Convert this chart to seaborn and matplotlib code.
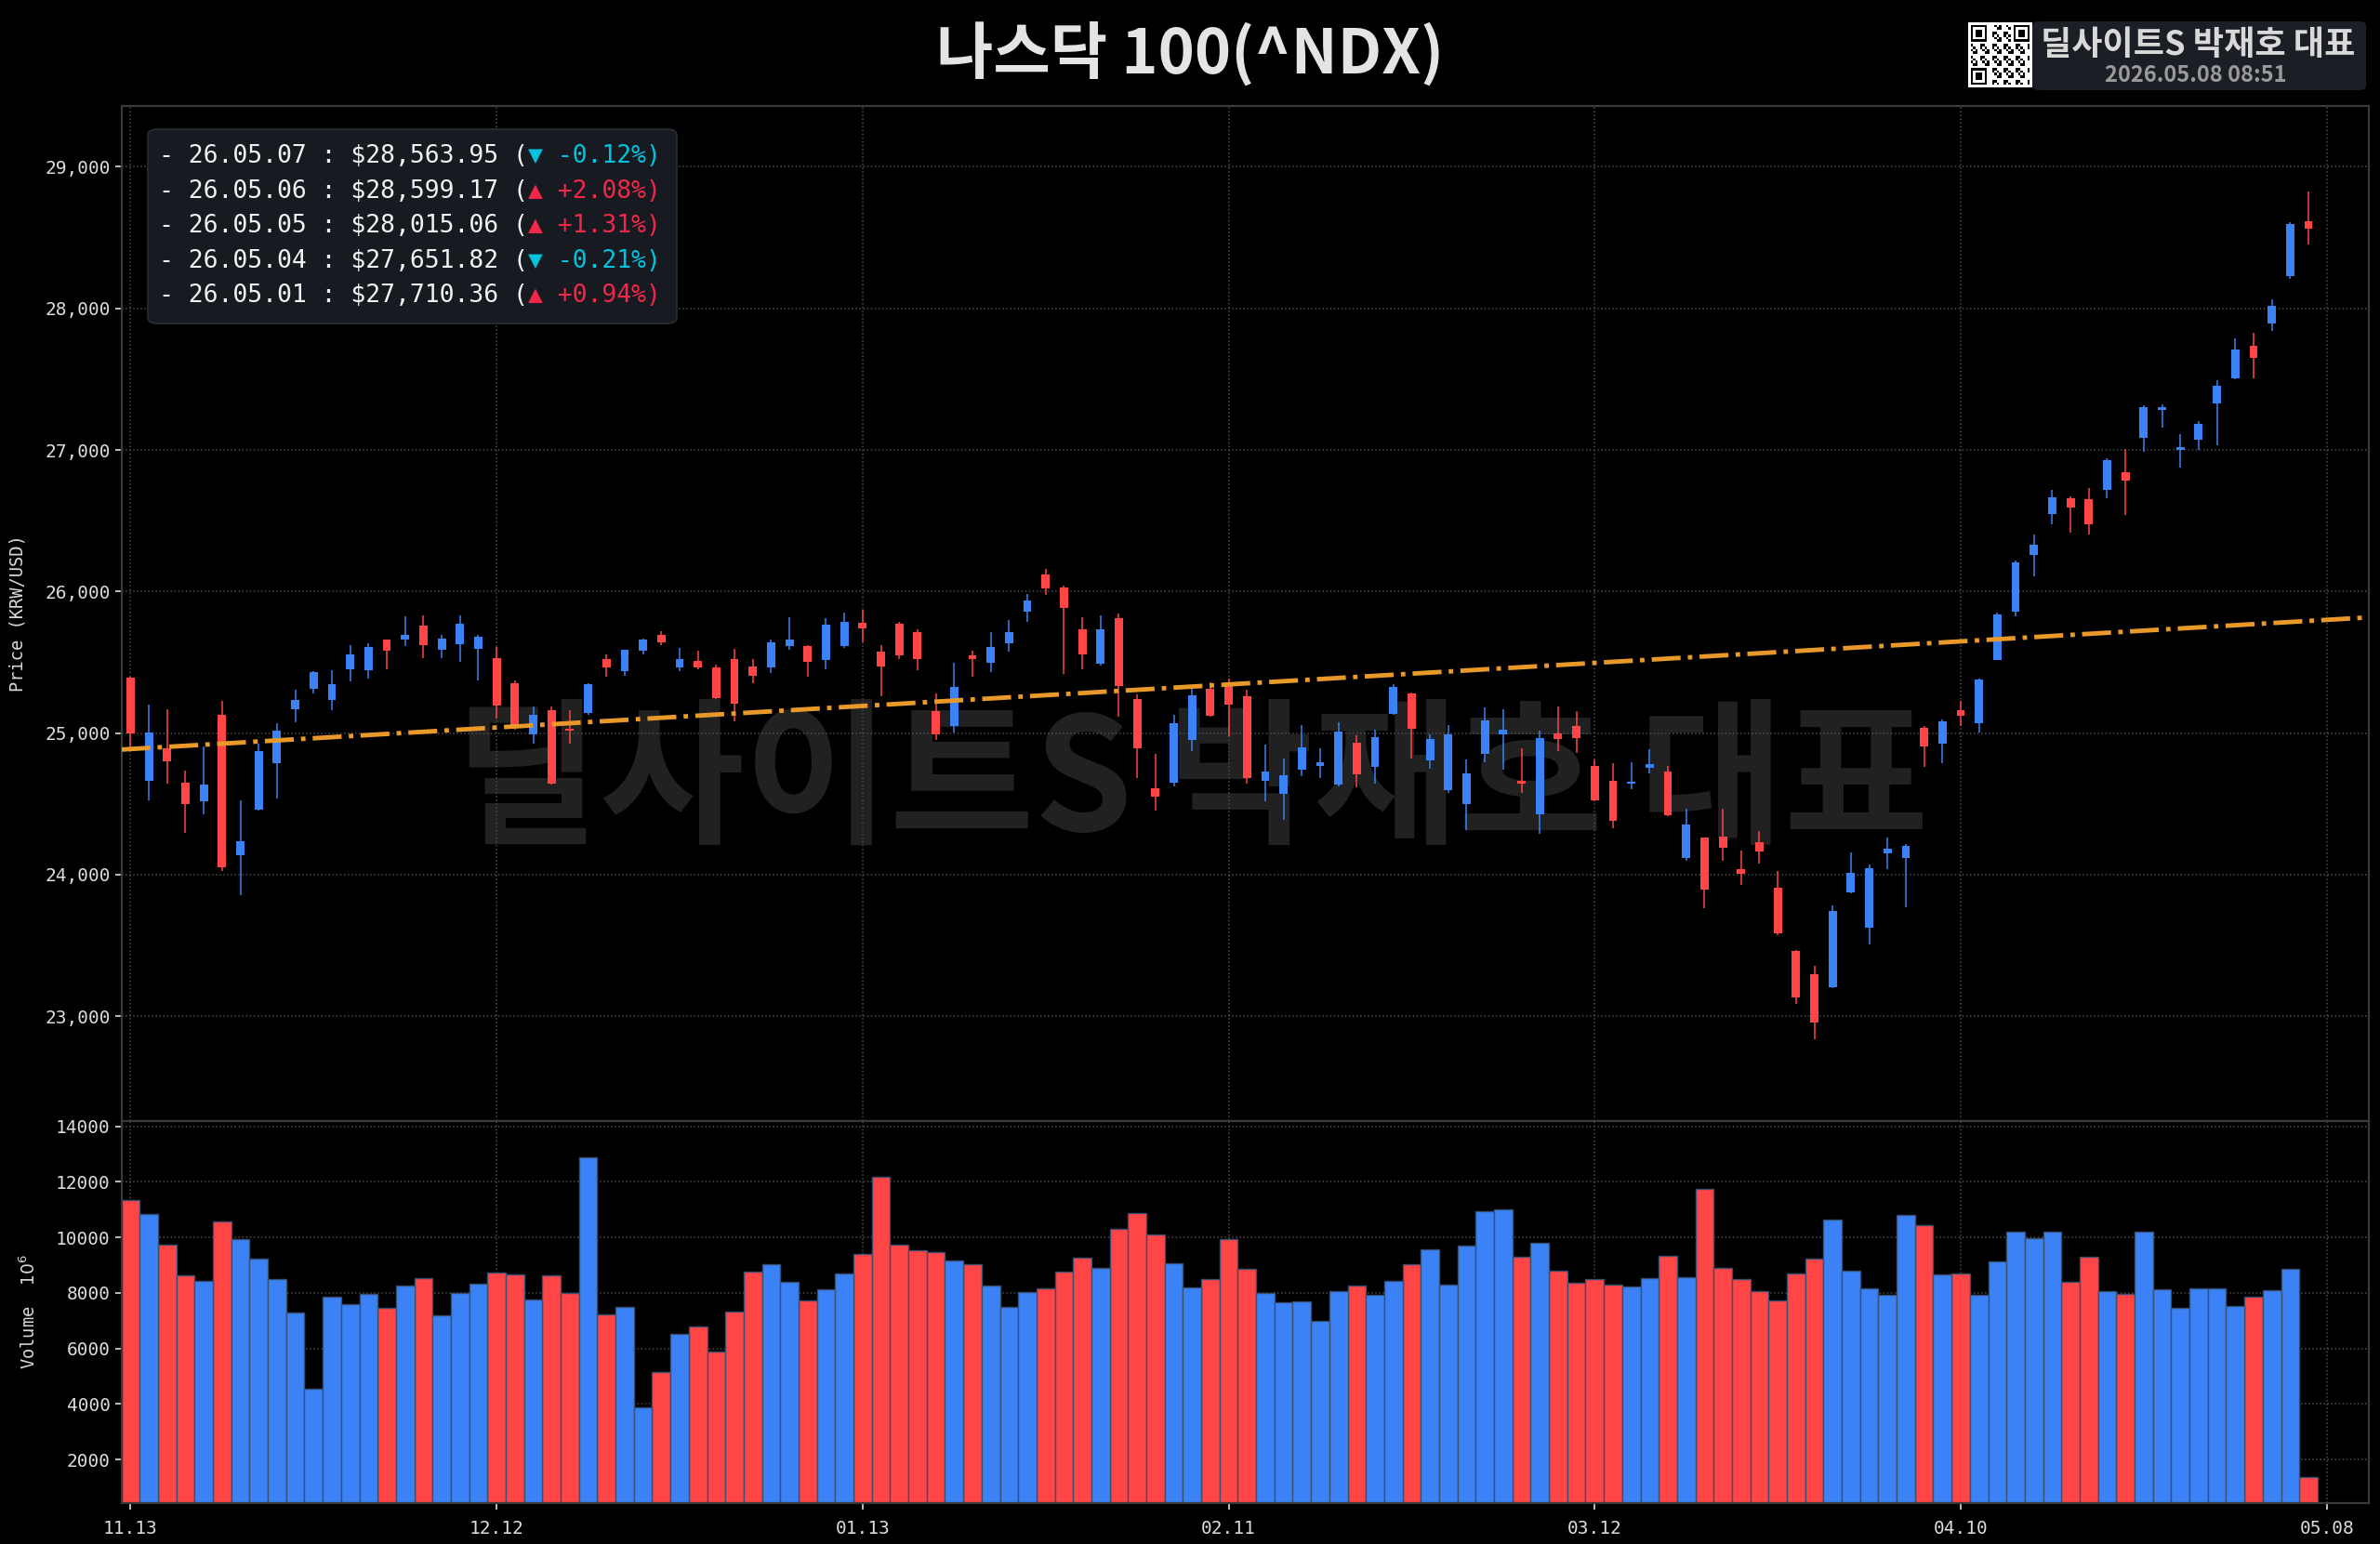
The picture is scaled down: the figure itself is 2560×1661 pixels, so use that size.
import numpy as np
import pandas as pd
import matplotlib
matplotlib.use("Agg")
import matplotlib.pyplot as plt
import seaborn as sns
from matplotlib.patches import FancyBboxPatch
from matplotlib.text import Annotation
from matplotlib.ticker import FuncFormatter, FixedLocator

# ---------------- data ----------------
opens = [25390, 24660, 24890, 24653, 24518, 25132, 24138, 24458, 24787, 25169,
         25311, 25235, 25450, 25445, 25660, 25660, 25757, 25592, 25629, 25596,
         25531, 25351, 24993, 25164, 25033, 25143, 25526, 25439, 25583, 25691,
         25465, 25509, 25465, 25522, 25471, 25465, 25618, 25618, 25515, 25618,
         25778, 25575, 25772, 25713, 25158, 25050, 25548, 25500, 25632, 25855,
         26118, 26026, 25735, 25489, 25811, 25241, 24612, 24653, 24950, 25314,
         25351, 25259, 24664, 24568, 24743, 24770, 24634, 24934, 24763, 25138,
         25279, 24809, 24599, 24502, 24851, 24993, 24660, 24430, 25000, 25050,
         24770, 24660, 24645, 24754, 24730, 24116, 24261, 24270, 24042, 24232,
         23908, 23459, 23300, 23207, 23878, 23627, 24151, 24117, 25040, 24927,
         25161, 25073, 25514, 25857, 26260, 26549, 26658, 26654, 26717, 26843,
         27086, 27283, 26998, 27073, 27329, 27505, 27736, 27895, 28231, 28616]
highs = [25400, 25204, 25169, 24737, 24908, 25226, 24522, 24923, 25070, 25307,
         25439, 25447, 25625, 25638, 25664, 25827, 25829, 25697, 25833, 25697,
         25610, 25373, 25191, 25191, 25164, 25355, 25555, 25592, 25669, 25717,
         25599, 25581, 25482, 25596, 25520, 25658, 25818, 25625, 25811, 25851,
         25871, 25625, 25785, 25735, 25281, 25498, 25581, 25713, 25796, 25980,
         26162, 26042, 25822, 25833, 25844, 25274, 24851, 25127, 25314, 25362,
         25384, 25307, 24919, 24820, 25055, 24890, 25077, 24985, 25022, 25346,
         25290, 24989, 25059, 24814, 25180, 25171, 24890, 25015, 25191, 25154,
         24814, 24787, 24792, 24884, 24765, 24463, 24265, 24467, 24171, 24309,
         24025, 23467, 23354, 23786, 24159, 24075, 24264, 24214, 25048, 25094,
         25228, 25388, 25849, 26218, 26402, 26717, 26671, 26730, 26939, 27010,
         27317, 27325, 27115, 27203, 27493, 27786, 27828, 28063, 28608, 28826]
lows = [24880, 24528, 24643, 24298, 24430, 24024, 23853, 24450, 24540, 25077,
        25281, 25160, 25366, 25384, 25450, 25614, 25531, 25531, 25504, 25373,
        25103, 25022, 24923, 24638, 24923, 25132, 25401, 25406, 25555, 25621,
        25439, 25454, 25241, 25083, 25355, 25428, 25592, 25399, 25454, 25599,
        25640, 25263, 25520, 25445, 24952, 25004, 25401, 25432, 25577, 25789,
        25976, 25421, 25454, 25478, 25114, 24686, 24452, 24621, 24875, 25114,
        24978, 24643, 24518, 24386, 24693, 24686, 24627, 24616, 24643, 25132,
        24820, 24748, 24577, 24316, 24796, 24743, 24577, 24292, 24875, 24857,
        24518, 24331, 24601, 24715, 24414, 24101, 23761, 24101, 23930, 24079,
        23576, 23090, 22838, 23199, 23870, 23509, 24038, 23773, 24759, 24788,
        25052, 25002, 25514, 25828, 26109, 26478, 26415, 26402, 26658, 26541,
        26989, 27157, 26876, 27002, 27031, 27497, 27505, 27841, 28210, 28449]
closes = [24996, 25007, 24803, 24502, 24638, 24050, 24239, 24873, 25018, 25237,
          25432, 25344, 25555, 25607, 25583, 25691, 25625, 25669, 25774, 25684,
          25195, 25055, 25132, 24645, 25018, 25346, 25461, 25588, 25658, 25643,
          25524, 25465, 25248, 25208, 25406, 25640, 25658, 25504, 25763, 25789,
          25741, 25471, 25548, 25526, 24989, 25325, 25520, 25607, 25713, 25939,
          26024, 25884, 25553, 25735, 25336, 24895, 24550, 25070, 25270, 25121,
          25202, 24686, 24730, 24700, 24897, 24796, 25011, 24708, 24974, 25329,
          25033, 24961, 24989, 24715, 25092, 25022, 24643, 24967, 24956, 24963,
          24528, 24379, 24654, 24781, 24423, 24353, 23897, 24193, 24007, 24167,
          23585, 23132, 22956, 23744, 24013, 24046, 24184, 24201, 24906, 25082,
          25124, 25379, 25841, 26205, 26331, 26667, 26591, 26478, 26931, 26784,
          27304, 27304, 27023, 27187, 27452.30, 27710.36, 27651.82, 28015.06, 28599.17, 28563.95]
volumes = [11348, 10844, 9725, 8629, 8438, 10565, 9949, 9244, 8494, 7297,
           4556, 7879, 7599, 7968, 7454, 8271, 8528, 7185, 7991, 8327,
           8718, 8662, 7767, 8618, 7991, 12881, 7241, 7510, 3884, 5160,
           6514, 6783, 5888, 7342, 8752, 9020, 8405, 7734, 8125, 8707,
           9412, 12165, 9725, 9524, 9468, 9166, 9032, 8259, 7487, 8024,
           8159, 8774, 9255, 8886, 10307, 10867, 10117, 9054, 8181, 8495,
           9927, 8864, 7980, 7666, 7711, 7006, 8069, 8248, 7935, 8438,
           9032, 9569, 8304, 9703, 10934, 11001, 9300, 9804, 8797, 8360,
           8483, 8293, 8226, 8528, 9334, 8573, 11740, 8909, 8483, 8047,
           7734, 8707, 9244, 10643, 8797, 8159, 7913, 10811, 10442, 8673,
           8696, 7935, 9132, 10218, 9983, 10196, 8383, 9300, 8080, 7968,
           10218, 8136, 7454, 8159, 8159, 7543, 7846, 8092, 8875, 1378]
market_holidays = ["2025-11-27", "2025-12-25", "2026-01-01", "2026-01-19",
                   "2026-02-16", "2026-04-03"]
start_date, end_date = "2025-11-13", "2026-05-08"

# ---------------- derived ----------------
n = len(closes)
idx = np.arange(n)
o = np.array(opens, float); h = np.array(highs, float)
l = np.array(lows, float); c = np.array(closes, float)
v = np.array(volumes, float)
dates = pd.bdate_range(start_date, end_date, freq="C", holidays=market_holidays)

BLUE = "#3b82f6"
RED = "#ff4545"
UPC = "#f0284a"
DNC = "#00c4de"
up = c >= o
colors = np.where(up, BLUE, RED)

sns.set_theme(style="dark")
plt.rcParams["font.family"] = ["DejaVu Sans Mono", "DejaVu Sans"]
plt.rcParams["axes.unicode_minus"] = False
KFONT = ["Noto Sans CJK KR", "DejaVu Sans"]

fig = plt.figure(figsize=(25.6, 16.61), dpi=100)
fig.patch.set_facecolor("black")
L, W = 130.6 / 2560, (2548 - 130.6) / 2560
y_mid = 1 - 1206 / 1661
ax1 = fig.add_axes([L, y_mid, W, (1 - 114 / 1661) - y_mid])
ax2 = fig.add_axes([L, 1 - 1617 / 1661, W, y_mid - (1 - 1617 / 1661)])

xl = (-0.5, 122.3)
for ax in (ax1, ax2):
    ax.set_facecolor("black")
    ax.set_xlim(*xl)
    for s in ax.spines.values():
        s.set_color("#3a3a3a")
        s.set_linewidth(1.6)

# watermark
ax1.text(0.5008, 0.492, "딜사이트S 박재호 대표", transform=fig.transFigure,
         ha="center", va="center", fontsize=122, fontweight="heavy",
         color="#212121", family=KFONT, zorder=0.2)

# candles
ax1.vlines(idx, l, h, colors=colors, lw=1.1, zorder=2)
body_h = np.maximum(np.abs(c - o), 8)
ax1.bar(idx, body_h, bottom=np.minimum(o, c), width=0.45, color=colors,
        linewidth=0, zorder=3)

# trend line (linear regression of closes)
sns.regplot(x=idx, y=c, ax=ax1, scatter=False, ci=None, truncate=False,
            line_kws=dict(color="#e8992a", lw=3.5, ls="-.", zorder=4))
ax1.set_xlim(*xl)
ax1.set_ylim(22260, 29430)
ax1.yaxis.set_major_locator(FixedLocator(np.arange(23000, 29001, 1000)))
ax1.yaxis.set_major_formatter(FuncFormatter(lambda val, p: f"{val:,.0f}"))
tick_pos = np.arange(0, len(dates), 20)
ax1.set_xticks(tick_pos)
ax1.tick_params(labelbottom=False, bottom=False)
ax1.set_axisbelow(True)
ax1.grid(True, color="#4d4d4d", ls=":", lw=1.1)
ax1.set_xlabel("")
ax1.set_ylabel("Price (KRW/USD)", fontsize=13.5, color="#d8d8d8")
ax1.yaxis.set_label_coords(-0.0424, 0.5)

# volume
vdf = pd.DataFrame({"i": idx, "vol": v, "dir": np.where(up, "up", "down")})
sns.barplot(data=vdf, x="i", y="vol", hue="dir", palette={"up": BLUE, "down": RED},
            native_scale=True, width=1.0, dodge=False, errorbar=None, legend=False,
            saturation=1, edgecolor="#3a5070", linewidth=1.0, ax=ax2, zorder=2)
ax2.set_xlim(*xl)
ax2.set_ylim(430, 14190)
ax2.yaxis.set_major_locator(FixedLocator(np.arange(2000, 14001, 2000)))
ax2.yaxis.set_major_formatter(FuncFormatter(lambda val, p: f"{val:.0f}"))
ax2.set_xticks(tick_pos)
ax2.set_xticklabels([d.strftime("%m.%d") for d in dates[tick_pos]])
ax2.set_axisbelow(True)
ax2.grid(True, color="#4d4d4d", ls=":", lw=1.1)
ax2.set_xlabel("")
ax2.set_ylabel("Volume  $10^{6}$", fontsize=13.5, color="#d8d8d8")
ax2.yaxis.set_label_coords(-0.0367, 0.5)

for ax in (ax1, ax2):
    ax.tick_params(axis="both", colors="#dcdcdc", labelsize=14, length=5, width=1.2,
                   left=True)
ax2.tick_params(axis="x", bottom=True, pad=8)

# title
fig.text(0.5, 1 - 58 / 1661, "나스닥 100(^NDX)", ha="center", va="center",
         fontsize=48, fontweight="heavy", color="#e4e4e4", family=KFONT)

# info box (last 5 closes)
fig.patches.append(FancyBboxPatch((159 / 2560, 1 - 348 / 1661), (728 - 159) / 2560,
                                  (348 - 139) / 1661, boxstyle="round,pad=0,rounding_size=0.004",
                                  transform=fig.transFigure, facecolor="#171a20",
                                  edgecolor="#2a2e35", lw=1.2, zorder=5))
line_y = [168, 206, 243, 281, 318]
for k, yy in enumerate(line_y):
    j = n - 1 - k
    pct = (c[j] / c[j - 1] - 1) * 100
    prefix = f"- {dates[j].strftime('%y.%m.%d')} : ${c[j]:,.2f} ("
    arrow = "▲" if pct >= 0 else "▼"
    colored = f"{arrow} {pct:+.2f}%)"
    col = UPC if pct >= 0 else DNC
    t = fig.text(171 / 2560, 1 - yy / 1661, prefix, ha="left", va="center",
                 fontsize=19, color="#f2f2f2", zorder=6)
    a = Annotation(colored, xy=(1, 0.5), xycoords=t, ha="left", va="center",
                   fontsize=19, color=col, annotation_clip=False)
    a.set_zorder(6)
    fig.add_artist(a)

# logo block
fig.patches.append(FancyBboxPatch((2186 / 2560, 1 - 97 / 1661), (2545 - 2186) / 2560,
                                  74 / 1661, boxstyle="round,pad=0,rounding_size=0.003",
                                  transform=fig.transFigure, facecolor="#1b1e24",
                                  edgecolor="none", zorder=1))
qax = fig.add_axes([2117 / 2560, 1 - 94 / 1661, 69 / 2560, 70 / 1661])
g = 25
rr, cc = np.mgrid[0:g, 0:g]
qr = ((rr * 7 + cc * 13 + rr * cc) % 5 < 2).astype(float)
for (r0, c0) in [(0, 0), (0, g - 7), (g - 7, 0)]:
    qr[max(r0 - 1, 0):r0 + 8, max(c0 - 1, 0):c0 + 8] = 0
    qr[r0:r0 + 7, c0:c0 + 7] = 1
    qr[r0 + 1:r0 + 6, c0 + 1:c0 + 6] = 0
    qr[r0 + 2:r0 + 5, c0 + 2:c0 + 5] = 1
qpad = np.zeros((g + 2, g + 2)); qpad[1:-1, 1:-1] = qr
qax.imshow(qpad, cmap="gray_r", interpolation="nearest", aspect="auto")
qax.axis("off")
fig.text(2364 / 2560, 1 - 48 / 1661, "딜사이트S 박재호 대표", ha="center", va="center",
         fontsize=26, fontweight="heavy", color="#d9d9d9", family=KFONT, zorder=3)
fig.text(2362 / 2560, 1 - 81 / 1661, "2026.05.08 08:51", ha="center", va="center",
         fontsize=17, fontweight="bold", color="#9a9a9a", family=KFONT, zorder=3)

fig.savefig("out.png", dpi=100, facecolor="black")
